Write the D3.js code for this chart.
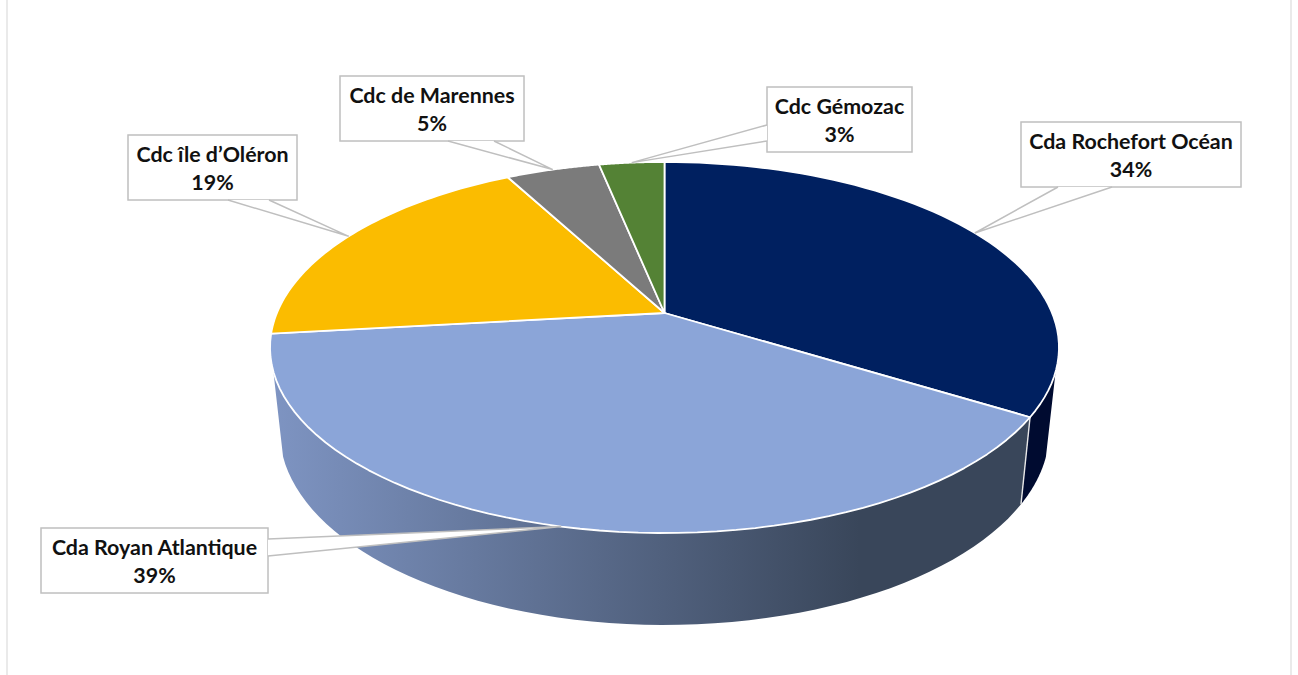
<!DOCTYPE html>
<html>
<head>
<meta charset="utf-8">
<script src="https://cdn.jsdelivr.net/npm/d3@7"></script>
<style>
  html, body { margin: 0; padding: 0; background: #fff; }
  svg { display: block; }
  text { font-family: Lato, "Open Sans", sans-serif; font-weight: 700; font-size: 21.4px; fill: #111; }
</style>
</head>
<body>
<div id="chart"></div>
<script>
// chart values
const categories = ["Cda Rochefort Océan", "Cda Royan Atlantique", "Cdc île d’Oléron", "Cdc de Marennes", "Cdc Gémozac"];
const shares = [33.8, 39.4, 19.0, 4.6, 3.2];
const colors = ["#002060", "#8BA5D8", "#FBBC00", "#7B7B7B", "#548235"];

// callout boxes: x, y, w, h and the two points where the pointer leaves the box
const callouts = [
  { x: 1021, y: 122, w: 220, h: 65, base: [[1058, 187], [1112, 187]] },
  { x: 41, y: 528, w: 227, h: 65, base: [[268, 539], [268, 556]] },
  { x: 128, y: 135, w: 169, h: 65, base: [[228, 200], [269, 200]] },
  { x: 340, y: 76, w: 184, h: 65, base: [[448, 141], [494, 141]] },
  { x: 767, y: 87, w: 145, h: 65, base: [[767, 125], [767, 141]] }
];

const width = 1298, height = 675;
const svg = d3.select("#chart").append("svg").attr("width", width).attr("height", height);

// frame of the chart area, only the two sides show
[7, 1291].forEach(x => {
  svg.append("line").attr("x1", x).attr("x2", x).attr("y1", 0).attr("y2", height)
     .attr("stroke", "#e3e3e3").attr("stroke-width", 1.5);
});

// perspective of the disc: k squeezes the far side, b and c are the radii on screen
const k = 0.186, cx = 664.5;
const top_ = { yc: 313, b: 179.1, c: 387.6 };
const bot = { yc: 395.6, b: 186.7, c: 378 };
function project(angle, plane) {
  const u = Math.sin(angle), v = Math.cos(angle), den = 1 + k * v;
  return [cx + plane.c * u / den, plane.yc - plane.b * v / den];
}
function rim(a0, a1, plane) {
  return d3.range(0, 61).map(i => project(a0 + (a1 - a0) * i / 60, plane));
}
const line = d3.line();

const arcs = d3.pie().sort(null)(shares);
const visibleFrom = 108 * Math.PI / 180, visibleTo = 252 * Math.PI / 180;

// gradient along the front wall
const defs = svg.append("defs");
const grad = defs.append("linearGradient").attr("id", "wallBlue")
  .attr("gradientUnits", "userSpaceOnUse").attr("x1", 273).attr("x2", 860).attr("y1", 0).attr("y2", 0);
grad.append("stop").attr("offset", "0%").attr("stop-color", "#7E94C2");
grad.append("stop").attr("offset", "100%").attr("stop-color", "#39465A");

// side walls first
const wallFill = ["#000B30", "url(#wallBlue)"];
arcs.forEach((d, i) => {
  const a0 = Math.max(d.startAngle, visibleFrom), a1 = Math.min(d.endAngle, visibleTo);
  if (a1 <= a0) return;
  const pts = rim(a0, a1, top_).concat(rim(a1, a0, bot));
  svg.append("path").attr("d", line(pts) + "Z").attr("fill", wallFill[i] || colors[i]);
});
// seam between the two walls
const seam = arcs[0].endAngle;
svg.append("path").attr("d", line([project(seam, top_), project(seam, bot)]))
   .attr("stroke", "#e8e8e8").attr("stroke-width", 1.4).attr("fill", "none");

// top of the pie
svg.selectAll("path.slice").data(arcs).enter().append("path")
   .attr("class", "slice")
   .attr("d", d => line([[cx, top_.yc]].concat(rim(d.startAngle, d.endAngle, top_))) + "Z")
   .attr("fill", (d, i) => colors[i])
   .attr("stroke", "#fff").attr("stroke-width", 1.8).attr("stroke-linejoin", "round");

// callouts
const fmt = d3.format(".0%");
arcs.forEach((d, i) => {
  const c = callouts[i];
  const tip = project((d.startAngle + d.endAngle) / 2, top_);
  const g = svg.append("g");
  g.append("rect").attr("x", c.x).attr("y", c.y).attr("width", c.w).attr("height", c.h)
   .attr("fill", "#fff").attr("stroke", "#bfbfbf").attr("stroke-width", 1.5);
  g.append("path").attr("d", line([c.base[0], tip, c.base[1]]) + "Z")
   .attr("fill", "#fff").attr("stroke", "none");
  g.append("path").attr("d", line([c.base[0], tip, c.base[1]]))
   .attr("fill", "none").attr("stroke", "#bfbfbf").attr("stroke-width", 1.5);
  g.append("text").attr("x", c.x + c.w / 2).attr("y", c.y + 27).attr("text-anchor", "middle").text(categories[i]);
  g.append("text").attr("x", c.x + c.w / 2).attr("y", c.y + 55).attr("text-anchor", "middle").text(fmt(shares[i] / 100));
});
</script>
</body>
</html>
